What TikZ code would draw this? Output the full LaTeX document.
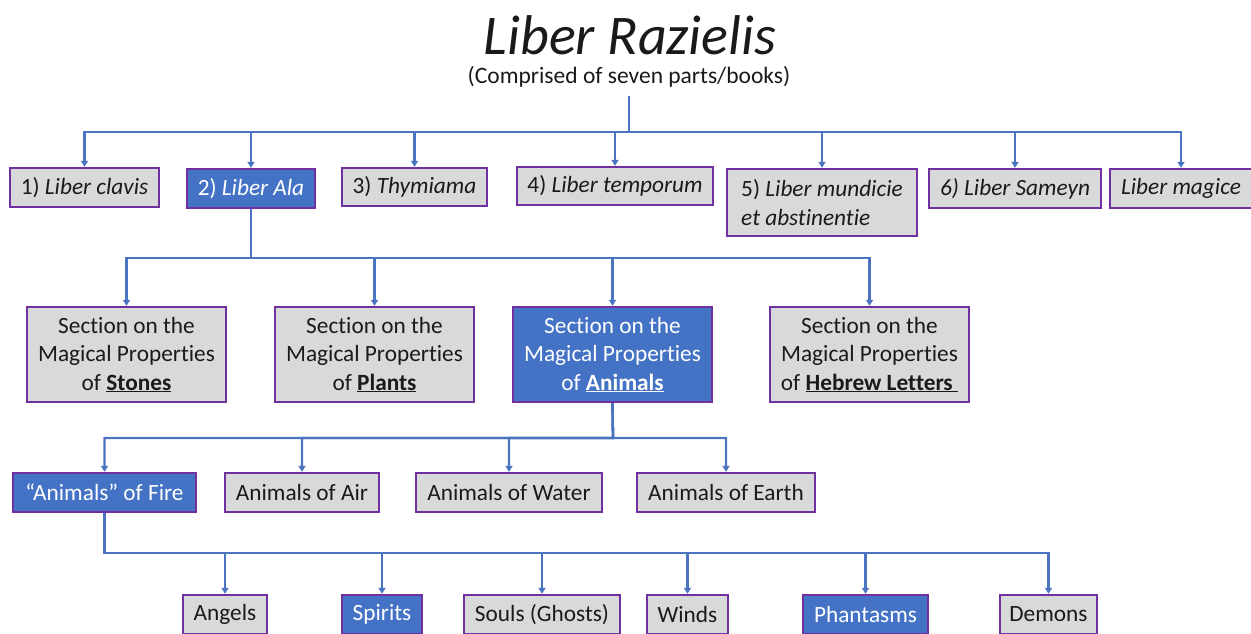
\documentclass[tikz,border=0pt]{standalone}
\usepackage{fontspec}
\setmainfont{Carlito}[Ligatures={NoCommon}]
\usetikzlibrary{arrows.meta}
\definecolor{boxblue}{HTML}{4472C4}
\definecolor{linkblue}{HTML}{4A74C0}
\definecolor{purp}{HTML}{7030A0}
\definecolor{boxgray}{HTML}{D9D9D9}
\definecolor{ink}{HTML}{1A1A1A}
\tikzset{
  graybox/.style={draw=purp, line width=2.4pt, fill=boxgray, text=ink, inner sep=0pt, align=center,
    font=\fontsize{23.3}{28.5}\selectfont},
  bluebox/.style={graybox, fill=boxblue, text=white},
  conn/.style={draw=linkblue, line width=2.3pt},
  arr/.style={conn, -{Triangle[length=6pt,width=7pt]}},
}
\newcommand{\bx}[7]{% name, style, x1, x2, y1, y2, text
  \node[#2, minimum width={#4-#3}, minimum height={#6-#5}] (#1) at ({(#3+#4)/2},{(#5+#6)/2}) {#7};}
\begin{document}
\begin{tikzpicture}[x=1pt,y=-1pt]
\useasboundingbox[fill=white] (0,0) rectangle (1251,633);
\begin{scope}
\clip (0,0) rectangle (1251,633);
% title
\node[font=\fontsize{56}{62}\selectfont\itshape, text=ink, inner sep=0pt] (title) at (630,35) {Liber Razielis};
\node[font=\fontsize{23.5}{28}\selectfont, text=ink, inner sep=0pt] (sub) at (629,77) {(Comprised of seven parts/books)};
\coordinate (top) at (629,96);
\coordinate (j1) at (629,132);
% row 1
\bx{b1}{graybox}{10}{159}{168}{207}{1) \textit{Liber clavis}}
\bx{b2}{bluebox}{187}{315}{169}{208}{2) \textit{Liber Ala}}
\bx{b3}{graybox}{342}{487}{168}{206}{3) \textit{Thymiama}}
\bx{b4}{graybox}{517}{713}{167}{205}{4) \textit{Liber temporum}}
\node[graybox, align=left, minimum width=190, minimum height=67] (b5) at (822,202.5) {5) \textit{Liber mundicie}\\\textit{et abstinentie}};
\bx{b6}{graybox}{929}{1101}{169}{208}{\textit{6) Liber Sameyn}}
\bx{b7}{graybox}{1110}{1252}{169}{208}{\textit{Liber magice}}
\foreach \n in {b1,b2,b3,b4,b5,b6,b7} \draw[arr] (top) -- (j1) -| (\n.north);
% row 2
\coordinate (j2) at (251,258);
\bx{sA}{graybox}{27}{226}{307}{402}{Section on the\\Magical Properties\\of \underline{\textbf{Stones}}}
\bx{sB}{graybox}{275}{474}{307}{402}{Section on the\\Magical Properties\\of \underline{\textbf{Plants}}}
\bx{sC}{bluebox}{513}{712}{307}{402}{Section on the\\Magical Properties\\of \underline{\textbf{Animals}}}
\bx{sD}{graybox}{770}{969}{307}{402}{Section on the\\Magical Properties\\of \underline{\textbf{Hebrew Letters}\ }}
\foreach \n in {sA,sB,sC,sD} \draw[arr] (b2.south) -- (j2) -| (\n.north);
% row 3
\coordinate (j3) at (613,438);
\bx{fire}{bluebox}{13}{196}{473}{512}{“Animals” of Fire}
\bx{air}{graybox}{225}{379}{473}{512}{Animals of Air}
\bx{water}{graybox}{416}{602}{473}{512}{Animals of Water}
\bx{earth}{graybox}{637}{815}{473}{512}{Animals of Earth}
\foreach \n in {fire,air,water,earth} \draw[arr] (sC.south) -- (j3) -| (\n.north);
% row 4
\coordinate (j4) at (104.5,553);
\bx{angels}{graybox}{183}{267}{595}{634}{Angels}
\bx{spirits}{bluebox}{342}{422}{595}{634}{Spirits}
\bx{souls}{graybox}{464}{620}{595}{634}{Souls (Ghosts)}
\bx{winds}{graybox}{647}{728}{595}{634}{Winds}
\bx{phant}{bluebox}{803}{928}{595}{634}{Phantasms}
\bx{demons}{graybox}{1000}{1097}{595}{634}{Demons}
\foreach \n in {angels,spirits,souls,winds,phant,demons} \draw[arr] (fire.south) -- (j4) -| (\n.north);
\end{scope}
\end{tikzpicture}
\end{document}
